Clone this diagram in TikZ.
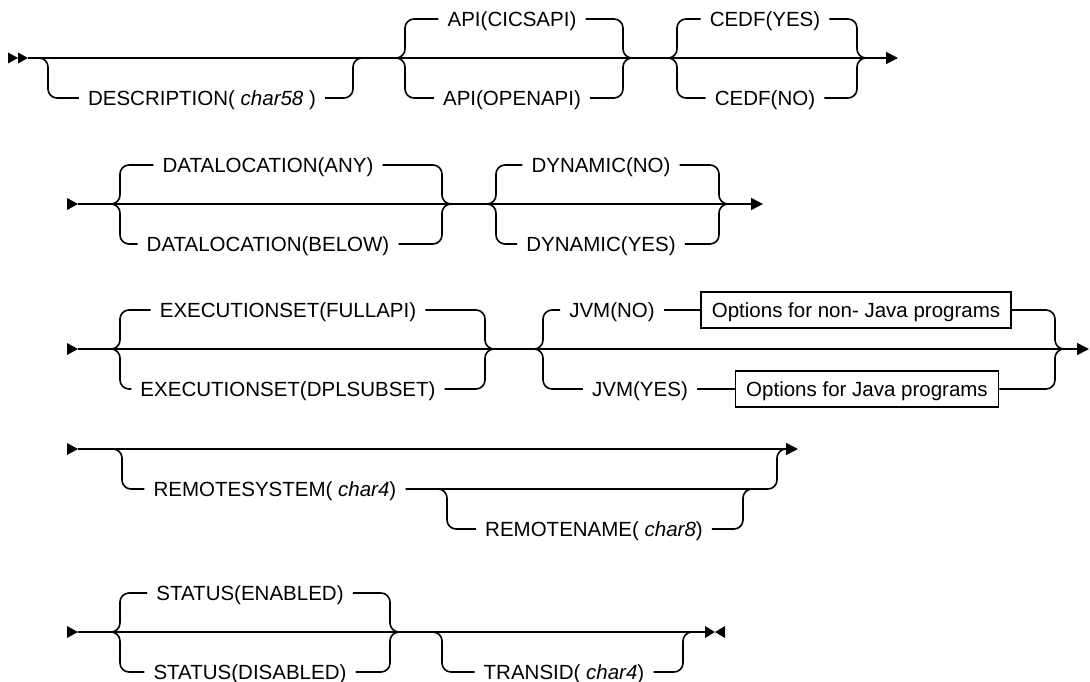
\documentclass[tikz,border=0pt]{standalone}
\usepackage{fontspec}
\setmainfont{Liberation Sans}
\usetikzlibrary{arrows.meta}
\newcommand\chgrp[7]{% name, L, R, y, cx, top, bottom
  \coordinate (#1L) at (#2,#4);
  \coordinate (#1R) at (#3,#4);
  \node[lbl] (#1t) at (#5,#4-39) {#6};
  \node[lbl] (#1b) at (#5,#4+40) {#7};
  \draw[ln] (#1L) -- ++(10,0) |- (#1t.west);
  \draw[ln] (#1L) -- ++(10,0) |- (#1b.west);
  \draw[ln] (#1t.east) -| ([xshift=-10pt]#1R) -- (#1R);
  \draw[ln] (#1b.east) -| ([xshift=-10pt]#1R) -- (#1R);
}
\newcommand\optgrp[6]{% name, A, B, y, cx, text
  \coordinate (#1A) at (#2,#4);
  \coordinate (#1B) at (#3,#4);
  \node[lbl] (#1t) at (#5,#4+40) {#6};
  \draw[ln] (#1A) -- ++(10,0) |- (#1t.west);
  \draw[ln] (#1t.east) -| ([xshift=-10pt]#1B) -- (#1B);
}
\begin{document}
\begin{tikzpicture}[x=1pt,y=-1pt,
  ln/.style={line width=1.6pt, rounded corners=9pt},
  lbl/.style={font=\fontsize{20.5}{24}\selectfont, inner xsep=9pt, inner ysep=0pt, text height=14.5pt, text depth=0pt},
  bx/.style={draw, line width=1.3pt, font=\fontsize{20.5}{24}\selectfont, inner xsep=11pt, inner ysep=0pt, text height=14.5pt, text depth=0pt, minimum height=36pt},
  tip/.style={-{Triangle[length=12pt,width=12pt]}}
]
\useasboundingbox (0,0) rectangle (1090,682);

% ---------- row 1
\fill (8,52.5) -- (18,58) -- (8,63.5) -- cycle;
\fill (18,52.5) -- (28,58) -- (18,63.5) -- cycle;
\coordinate (r1s) at (28,58);
\coordinate (r1e) at (898,58);
\draw[ln,tip] (r1s) -- (r1e);
\optgrp{desc}{38}{363}{58}{202}{DESCRIPTION( \textit{char58} )}
\chgrp{api}{395}{633}{58}{512}{API(CICSAPI)}{API(OPENAPI)}
\chgrp{cedf}{667}{867}{58}{765}{CEDF(YES)}{CEDF(NO)}

% ---------- row 2
\fill (67,198) -- (78,204) -- (67,210) -- cycle;
\coordinate (r2s) at (78,204);
\coordinate (r2e) at (763,204);
\draw[ln,tip] (r2s) -- (r2e);
\chgrp{dl}{110}{452}{204}{268}{DATALOCATION(ANY)}{DATALOCATION(BELOW)}
\chgrp{dyn}{486}{729}{204}{601}{DYNAMIC(NO)}{DYNAMIC(YES)}

% ---------- row 3
\fill (67,343) -- (78,349) -- (67,355) -- cycle;
\coordinate (r3s) at (78,349);
\coordinate (r3e) at (1089,349);
\draw[ln,tip] (r3s) -- (r3e);
\chgrp{ex}{110}{495}{349}{288}{EXECUTIONSET(FULLAPI)}{EXECUTIONSET(DPLSUBSET)}
\coordinate (jvL) at (533,349);
\coordinate (jvR) at (1065,349);
\node[lbl] (jno) at (612,310) {JVM(NO)};
\node[bx] (onj) at (856,310) {Options for non- Java programs};
\node[lbl] (jyes) at (640,389) {JVM(YES)};
\node[bx] (oj) at (867,389) {Options for Java programs};
\draw[ln] (jvL) -- ++(10,0) |- (jno.west);
\draw[ln] (jno.east) -- (onj.west);
\draw[ln] (onj.east) -| ([xshift=-10pt]jvR) -- (jvR);
\draw[ln] (jvL) -- ++(10,0) |- (jyes.west);
\draw[ln] (jyes.east) -- (oj.west);
\draw[ln] (oj.east) -| ([xshift=-10pt]jvR) -- (jvR);

% ---------- row 4
\fill (67,443) -- (78,449) -- (67,455) -- cycle;
\coordinate (r4s) at (78,449);
\coordinate (r4e) at (798,449);
\draw[ln,tip] (r4s) -- (r4e);
\optgrp{rsys}{112}{787}{449}{275}{REMOTESYSTEM( \textit{char4})}
\optgrp{rnam}{437}{753}{489}{594}{REMOTENAME( \textit{char8})}

% ---------- row 5
\fill (67,626) -- (78,632) -- (67,638) -- cycle;
\coordinate (r5s) at (78,632);
\coordinate (r5e) at (705,632);
\draw[ln] (r5s) -- (r5e);
\chgrp{st}{110}{400}{632}{250}{STATUS(ENABLED)}{STATUS(DISABLED)}
\optgrp{tr}{432}{693}{632}{564}{TRANSID( \textit{char4})}
\fill (705,626) -- (715,632) -- (705,638) -- cycle;
\fill (725,626) -- (715,632) -- (725,638) -- cycle;
\end{tikzpicture}
\end{document}
